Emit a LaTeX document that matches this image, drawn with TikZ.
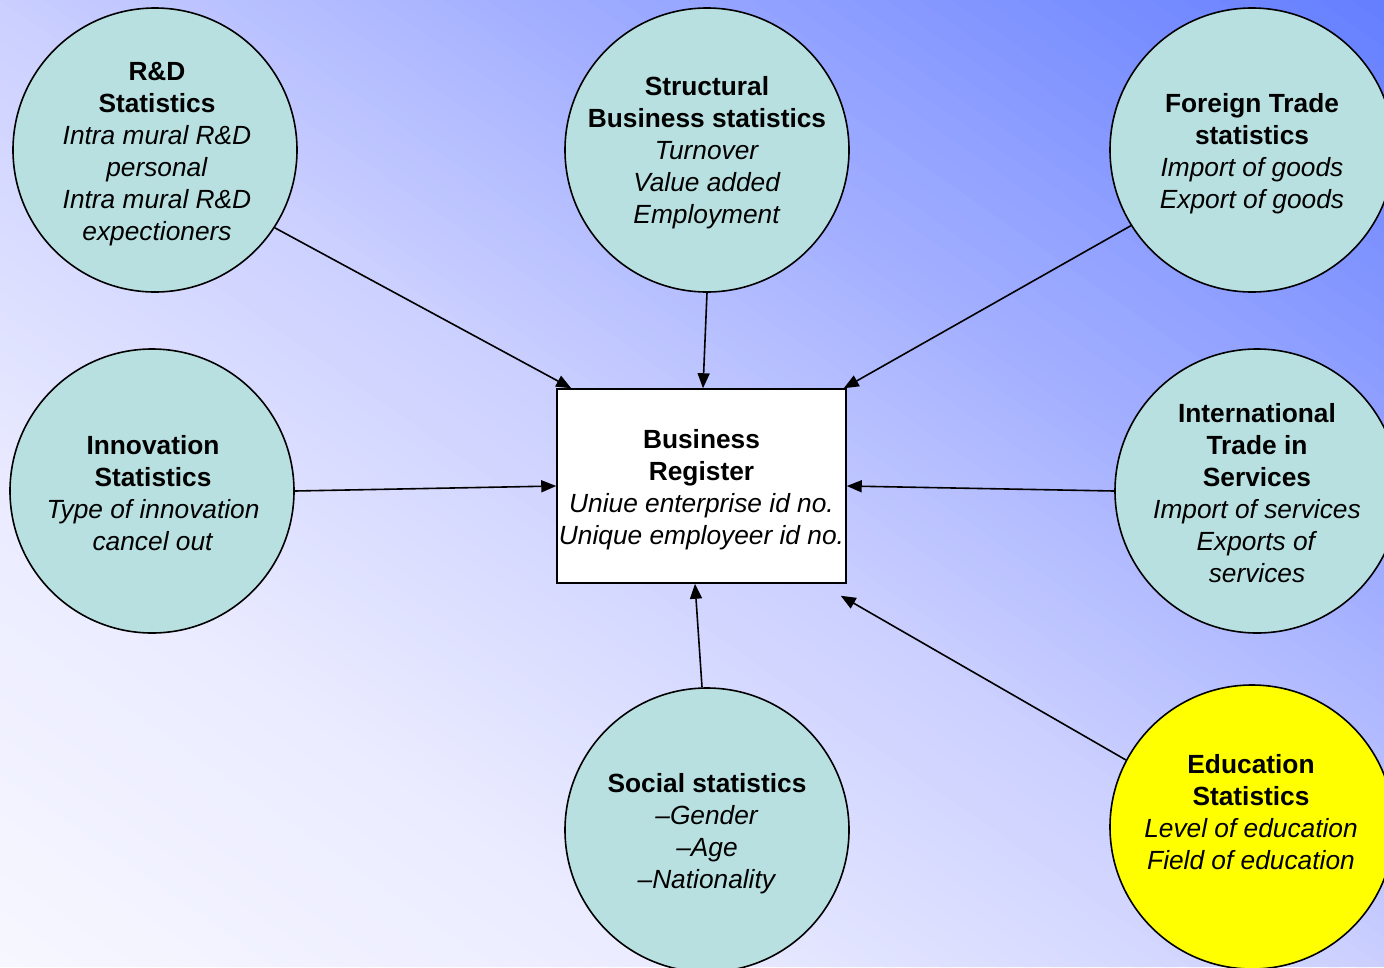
\documentclass[tikz,border=0pt]{standalone}
\usepackage{fontspec}
\setmainfont{Liberation Sans}
\usetikzlibrary{arrows.meta,calc}
\definecolor{c0}{RGB}{247,247,255}
\definecolor{c1}{RGB}{234,235,255}
\definecolor{c2}{RGB}{202,207,255}
\definecolor{c3}{RGB}{160,173,255}
\definecolor{c4}{RGB}{100,126,255}
\definecolor{teal}{RGB}{185,224,225}
\definecolor{yel}{RGB}{255,255,0}
\tikzset{
  bubble/.style={circle,draw=black,line width=1.6pt,fill=teal,minimum size=284pt,inner sep=0pt},
  yelbubble/.style={bubble,fill=yel},
  txt/.style={align=center,inner sep=0pt,font=\fontsize{26.3}{32}\selectfont},
  regbox/.style={draw=black,line width=1.5pt,fill=white,minimum width=289pt,minimum height=194pt,inner sep=0pt},
  arr/.style={line width=1.6pt,-{Triangle[length=15pt,width=12pt]}}
}
\begin{document}
\begin{tikzpicture}[x=1pt,y=-1pt]
\useasboundingbox (0,0) rectangle (1384,967);
\clip (0,0) rectangle (1384,967);
\foreach \ca/\cb/\ta/\tb in {c0/c1/0/0.25, c1/c2/0.25/0.5, c2/c3/0.5/0.7, c3/c4/0.7/1}{
  \foreach \i in {0,...,24}{
    \pgfmathsetmacro\tl{\ta+(\tb-\ta)*\i/25}
    \pgfmathsetmacro\tr{\ta+(\tb-\ta)*(\i+1)/25+0.004}
    \pgfmathsetmacro\pp{100*(\i+0.5)/25}
    \colorlet{stripc}{\cb!\pp!\ca}
    \fill[stripc] ({1384*(2*\tl-1)},0) -- ({1384*(2*\tr-1)},0) -- ({2768*\tr},967) -- ({2768*\tl},967) -- cycle;
  }
}

\node[regbox] (br) at (701.5,486) {};
\node[txt] (brT) at (701.5,490) {\textbf{Business}\\\textbf{Register}\\\textit{Uniue enterprise id no.}\\\textit{Unique employeer id no.}};

\node[bubble] (rd) at (155,150) {};
\node[txt] (rdT) at (157,154) {\textbf{R\&D}\\\textbf{Statistics}\\\textit{Intra mural R\&D}\\\textit{personal}\\\textit{Intra mural R\&D}\\\textit{expectioners}};

\node[bubble] (sb) at (707,150) {};
\node[txt] (sbT) at (707,153) {\textbf{Structural}\\\textbf{Business statistics}\\\textit{Turnover}\\\textit{Value added}\\\textit{Employment}};

\node[bubble] (ft) at (1252,150) {};
\node[txt] (ftT) at (1252,154) {\textbf{Foreign Trade}\\\textbf{statistics}\\\textit{Import of goods}\\\textit{Export of goods}};

\node[bubble] (in) at (152,491) {};
\node[txt] (inT) at (153,493) {\textbf{Innovation}\\\textbf{Statistics}\\\textit{Type of innovation}\\\textit{cancel out}};

\node[bubble] (its) at (1257,491) {};
\node[txt] (itsT) at (1257,493) {\textbf{International}\\\textbf{Trade in}\\\textbf{Services}\\\textit{Import of services}\\\textit{Exports of}\\\textit{services}};

\node[bubble] (so) at (707,830) {};
\node[txt] (soT) at (707,834) {\textbf{Social statistics}\\\textit{--Gender}\\\textit{--Age}\\\textit{--Nationality}};

\node[yelbubble] (ed) at (1252,827) {};
\node[txt] (edT) at (1251,812) {\textbf{Education}\\\textbf{Statistics}\\\textit{Level of education}\\\textit{Field of education}};

\coordinate (edEnd) at ($(br.south east)+(-6,12)$);
\draw[arr] (rd.-33) -- ($(br.north west)+(15,0)$);
\draw[arr] (sb.south) -- ($(br.north)+(1.5,0)$);
\draw[arr] (ft.212) -- ($(br.north east)+(-3,0)$);
\draw[arr] (in.east) -- (br.west);
\draw[arr] (its.west) -- (br.east);
\draw[arr] (so.92.8) -- ($(br.south)+(-6.5,0)$);
\draw[arr] (ed.152.2) -- (edEnd);
\end{tikzpicture}
\end{document}
